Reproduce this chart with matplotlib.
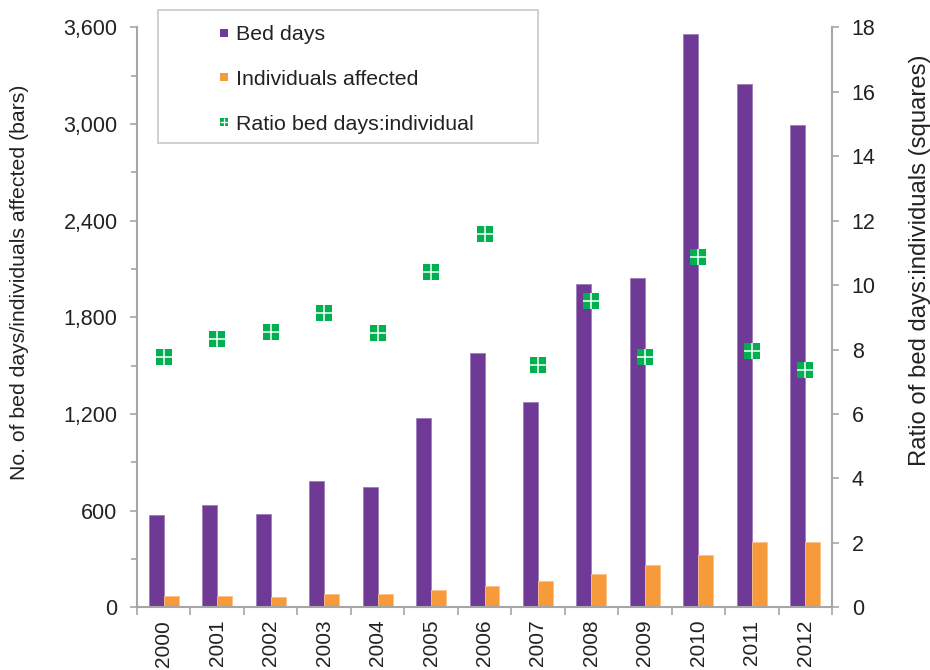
import matplotlib
matplotlib.use("Agg")
import matplotlib.pyplot as plt
import numpy as np
from matplotlib.lines import Line2D
from matplotlib.patches import Rectangle
from matplotlib.ticker import FuncFormatter, MultipleLocator, FixedLocator

plt.rcParams['font.family'] = ['Liberation Sans', 'DejaVu Sans']

years = ['2000', '2001', '2002', '2003', '2004', '2005', '2006',
         '2007', '2008', '2009', '2010', '2011', '2012']
bed_days = [573, 633, 579, 784, 745, 1175, 1579, 1274, 2006, 2045, 3560, 3245, 2995]
individuals = [70, 72, 64, 84, 84, 109, 134, 165, 207, 261, 323, 404, 404]
ratio = [7.77, 8.33, 8.55, 9.14, 8.52, 10.41, 11.57, 7.52, 9.51, 7.77, 10.88, 7.96, 7.37]

purple = '#6F3A96'
orange = '#F79A3A'
green = '#00B050'
axis_gray = '#A6A6A6'
text_col = '#222222'

fig = plt.figure(figsize=(9.3, 6.7), dpi=100)
ax = fig.add_axes([137/930, 1-607.3/670, (832-137)/930, (607.3-27.3)/670])
ax2 = ax.twinx()

x = np.arange(len(years))
w = 0.28
ax.bar(x - w/2, bed_days, width=w, color=purple, edgecolor='#9D7DBA', linewidth=0.6, zorder=2)
ax.bar(x + w/2, individuals, width=w, color=orange, edgecolor='#FAC08A', linewidth=0.6, zorder=2)

ax2.plot(x, ratio, linestyle='none', marker='s', markersize=12.2, color=green,
         markeredgewidth=0, zorder=3)
ax2.plot(x, ratio, linestyle='none', marker='+', markersize=11.5, color='white',
         markeredgewidth=1.1, zorder=4)

ax.set_xlim(-0.5, len(years) - 0.5)
ax.set_ylim(0, 3600)
ax2.set_ylim(0, 18)

ax.yaxis.set_major_locator(MultipleLocator(600))
ax.yaxis.set_minor_locator(MultipleLocator(300))
ax.yaxis.set_major_formatter(FuncFormatter(lambda v, p: f'{int(v):,}'))
ax2.yaxis.set_major_locator(MultipleLocator(2))

ax.xaxis.set_major_locator(FixedLocator(np.arange(-0.5, len(years), 1.0)))
ax.xaxis.set_minor_locator(FixedLocator(x))
ax.xaxis.set_major_formatter(FuncFormatter(lambda v, p: ''))
ax.set_xticks(x, years, minor=True)
ax.tick_params(axis='x', which='minor', length=0, pad=9, rotation=90,
               labelsize=15, labelcolor=text_col)
ax.tick_params(axis='x', which='major', length=5.5, width=1.2, color=axis_gray, direction='out')

ax.tick_params(axis='y', which='major', length=5, width=1.2, color=axis_gray,
               direction='out', labelsize=15.5, labelcolor=text_col, pad=9)
ax.tick_params(axis='y', which='minor', length=4, width=1.2, color=axis_gray, direction='out')
ax2.tick_params(axis='y', which='major', length=4.7, width=1.2, color=axis_gray,
                direction='out', labelsize=15.5, labelcolor=text_col, pad=9.5)

for a in (ax, ax2):
    for s in a.spines.values():
        s.set_visible(False)
ax.spines['left'].set_visible(True)
ax.spines['bottom'].set_visible(True)
ax2.spines['right'].set_visible(True)
for s in (ax.spines['left'], ax.spines['bottom'], ax2.spines['right']):
    s.set_color(axis_gray)
    s.set_linewidth(1.5)

fig.text(20/930, 1-282/670, 'No. of bed days/individuals affected (bars)', rotation=90,
         ha='center', va='center', fontsize=15.3, color=text_col)
fig.text(920/930, 1-260/670, 'Ratio of bed days:individuals (squares)', rotation=90,
         ha='center', va='center', fontsize=17.2, color=text_col)

# legend frame
fig.patches.append(Rectangle((158/930, 1-143/670), (538-158)/930, (143-10)/670,
                             transform=fig.transFigure, facecolor='white',
                             edgecolor='#C8C8C8', linewidth=1.2, zorder=5))
handles = [
    Line2D([], [], linestyle='none', marker='s', markersize=6, color=purple, markeredgewidth=0),
    Line2D([], [], linestyle='none', marker='s', markersize=6, color=orange, markeredgewidth=0),
    (Line2D([], [], linestyle='none', marker='s', markersize=6, color=green, markeredgewidth=0),
     Line2D([], [], linestyle='none', marker='+', markersize=5.6, color='white', markeredgewidth=0.9)),
]
labels = ['Bed days', 'Individuals affected', 'Ratio bed days:individual']
leg = fig.legend(handles, labels, loc='upper left', bbox_to_anchor=(220/930, 1-25/670),
                 frameon=False, fontsize=15.4, handlelength=0.38, handletextpad=0.38,
                 labelspacing=1.21, borderpad=0, borderaxespad=0)
leg.set_zorder(6)
for t in leg.get_texts():
    t.set_color(text_col)

fig.savefig('out.png', dpi=100)
